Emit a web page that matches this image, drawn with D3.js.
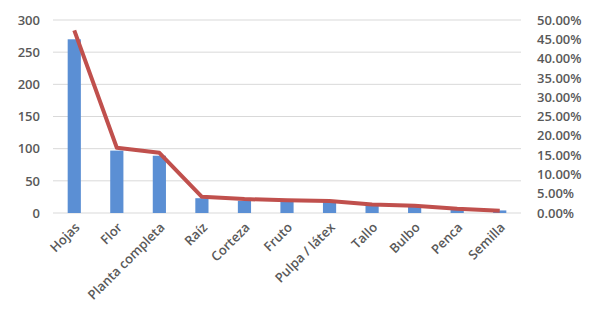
<!DOCTYPE html>
<html>
<head>
<meta charset="utf-8">
<script src="https://cdn.jsdelivr.net/npm/d3@7"></script>
<style>
    body { margin: 0; background: #fff; }
    .tick text, .cat-label { font-family: "Open Sans", sans-serif; font-size: 13px; font-weight: 600; fill: #595959; }
</style>
</head>
<body>
<div id="chart"></div>
<script>
// categories and values
const categories = ["Hojas", "Flor", "Planta completa", "Raíz", "Corteza", "Fruto",
    "Pulpa / látex", "Tallo", "Bulbo", "Penca", "Semilla"];
const counts = [270, 97, 89, 23, 19, 18, 17, 11, 10, 6, 4];
const percents = [0.473, 0.169, 0.156, 0.042, 0.036, 0.033, 0.031, 0.022, 0.019, 0.011, 0.006];
const leftTicks = [0, 50, 100, 150, 200, 250, 300];
const rightTicks = [0, 0.05, 0.10, 0.15, 0.20, 0.25, 0.30, 0.35, 0.40, 0.45, 0.50];

const totalW = 589, totalH = 310;
const margin = {top: 20, right: 68, bottom: 97, left: 53};
const width = totalW - margin.left - margin.right;
const height = totalH - margin.top - margin.bottom;

const svg = d3.select("#chart").append("svg")
    .attr("width", totalW)
    .attr("height", totalH)
    .append("g")
    .attr("transform", `translate(${margin.left},${margin.top})`);

let x = d3.scaleBand()
    .domain(categories)
    .range([0, width])
    .paddingInner(0.69)
    .paddingOuter(0.345);

let y = d3.scaleLinear().domain([0, 300]).range([height, 0]);
let y2 = d3.scaleLinear().domain([0, 0.5]).range([height, 0]);

// gridlines
svg.selectAll("line.grid")
    .data(leftTicks)
    .enter().append("line")
    .attr("class", "grid")
    .attr("x1", 0)
    .attr("x2", width)
    .attr("y1", d => y(d))
    .attr("y2", d => y(d))
    .attr("stroke", "#d9d9d9")
    .attr("stroke-width", 1);

// left axis
let yAxis = d3.axisLeft(y).tickValues(leftTicks).tickSize(0).tickPadding(13);
svg.append("g").attr("class", "y-axis").call(yAxis)
    .call(g => g.select(".domain").remove());

// right axis
let y2Axis = d3.axisRight(y2).tickValues(rightTicks).tickSize(0).tickPadding(16)
    .tickFormat(d3.format(".2%"));
svg.append("g").attr("class", "y2-axis")
    .attr("transform", `translate(${width},0)`)
    .call(y2Axis)
    .call(g => g.select(".domain").remove());

// bars
svg.selectAll("rect.bar")
    .data(categories)
    .enter().append("rect")
    .attr("class", "bar")
    .attr("x", d => x(d))
    .attr("width", x.bandwidth())
    .attr("y", (d, i) => y(counts[i]))
    .attr("height", (d, i) => height - y(counts[i]))
    .attr("fill", "#5b8fd4");

// percentage line
let line = d3.line()
    .x((d, i) => x(categories[i]) + x.bandwidth() / 2)
    .y(d => y2(d));

svg.append("path")
    .datum(percents)
    .attr("d", line)
    .attr("fill", "none")
    .attr("stroke", "#c0504d")
    .attr("stroke-width", 4)
    .attr("stroke-linejoin", "round");

// rotated category labels
svg.selectAll("text.cat-label")
    .data(categories)
    .enter().append("text")
    .attr("class", "cat-label")
    .attr("text-anchor", "end")
    .attr("transform", d => `translate(${x(d) + x.bandwidth() / 2 + 3},${height + 12}) rotate(-45)`)
    .attr("dy", "0.35em")
    .text(d => d);
</script>
</body>
</html>
